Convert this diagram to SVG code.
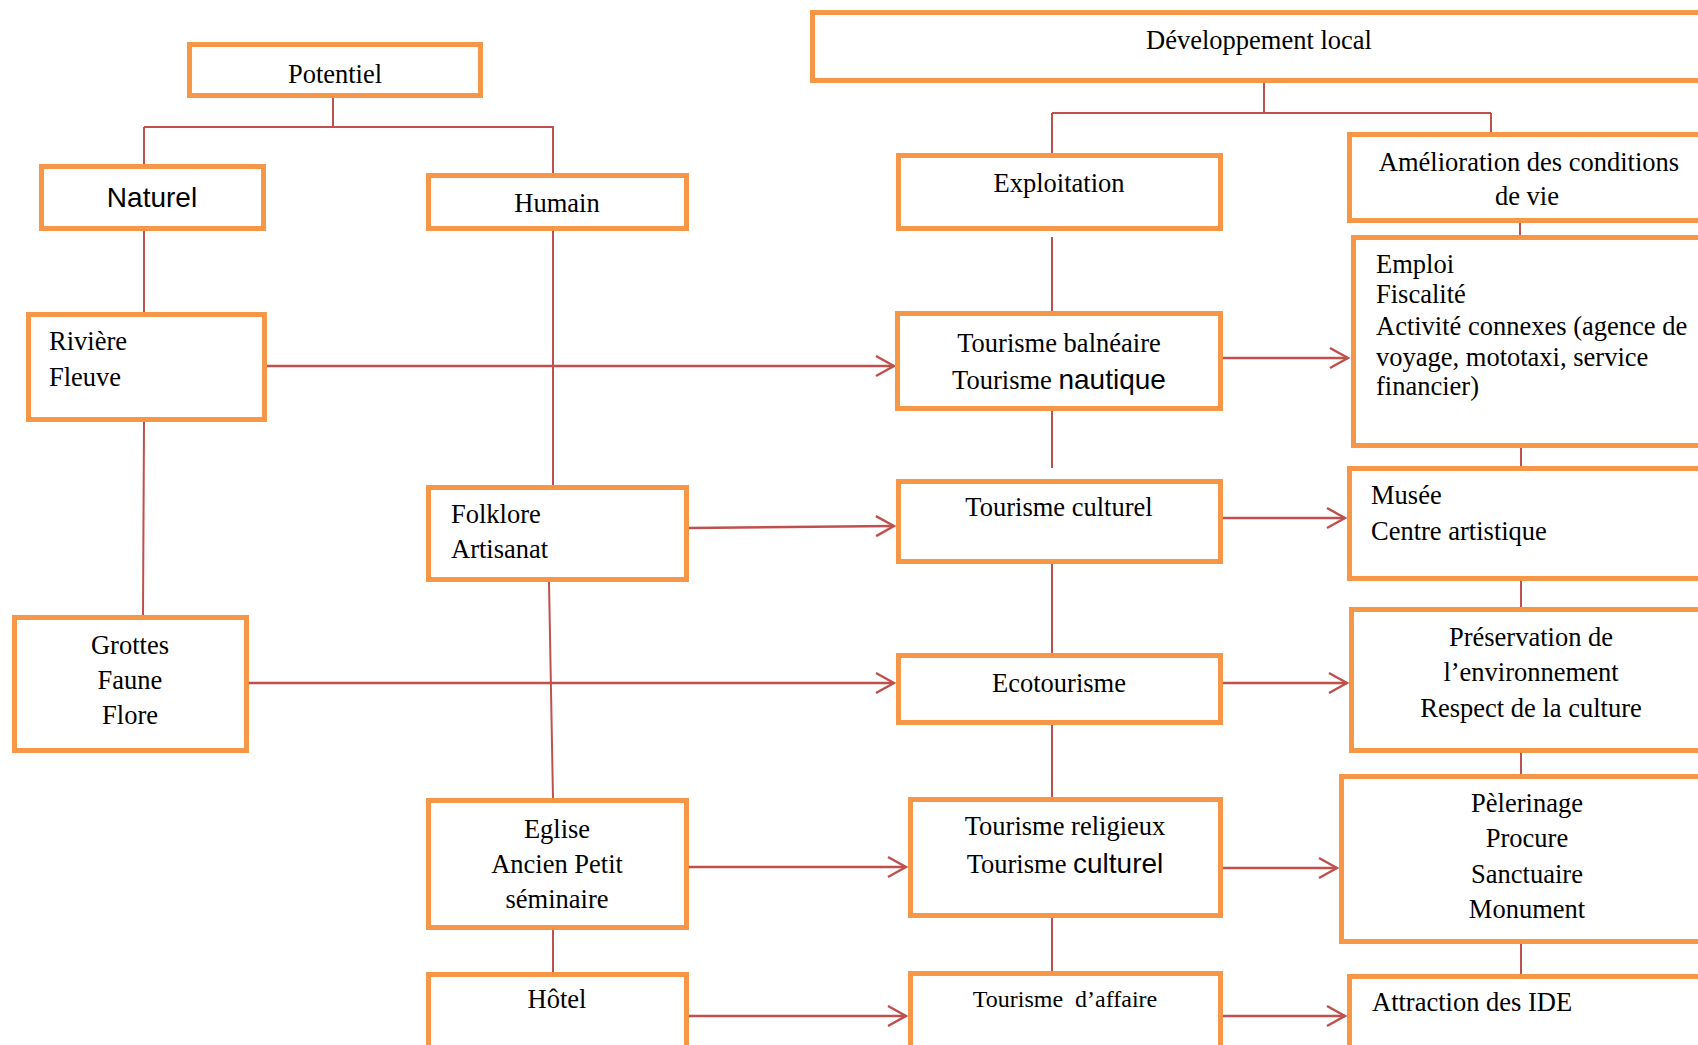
<svg xmlns="http://www.w3.org/2000/svg" width="1698" height="1045" viewBox="0 0 1698 1045">
<style>
.box{fill:#fff;stroke:#F79646;stroke-width:5}
.t{font-family:"Liberation Serif","Times New Roman",serif;font-size:26.5px;fill:#000}
.c{text-anchor:middle}
.s{font-family:"Liberation Sans",Arial,sans-serif;font-size:28px}
.ln{fill:none;stroke:#C0504D;stroke-width:2}
.ar{fill:none;stroke:#C0504D;stroke-width:2.5;marker-end:url(#arr)}
</style>
<defs>
<marker id="arr" markerUnits="userSpaceOnUse" viewBox="0 0 22 24" markerWidth="22" markerHeight="24" refX="20" refY="12" orient="auto">
<path d="M2,2 L20,12 L2,22" fill="none" stroke="#C0504D" stroke-width="2.5"/>
</marker>
</defs>
<rect width="1698" height="1045" fill="#fff"/>
<g id="connectors">
<path class="ln" d="M333 98V127M144 127H554M144 127V164M553 127V173"/>
<path class="ln" d="M144 231V312M144 422L143 615"/>
<path class="ln" d="M553 231V485M549 582L553 798M553 930V972"/>
<path class="ln" d="M1264 83V113M1052 113H1491M1052 113V153M1491 113V132"/>
<path class="ln" d="M1052 237V311M1052 411V468M1052 564V653M1052 725V797M1052 918V971"/>
<path class="ln" d="M1520 223V235M1521 448V466M1521 581V607M1521 753V774M1521 944V974"/>
<path class="ar" d="M267 366H894"/>
<path class="ar" d="M689 528L894 526"/>
<path class="ar" d="M249 683H894"/>
<path class="ar" d="M689 867H906"/>
<path class="ar" d="M689 1016H906"/>
<path class="ar" d="M1223 358H1348"/>
<path class="ar" d="M1223 518H1345"/>
<path class="ar" d="M1223 683H1347"/>
<path class="ar" d="M1223 868H1337"/>
<path class="ar" d="M1223 1016H1345"/>
</g>
<g id="potentiel"><rect class="box" x="189.5" y="44.5" width="291" height="51"/><text class="t c" x="335" y="83">Potentiel</text></g>
<g id="naturel"><rect class="box" x="41.5" y="166.5" width="222" height="62"/><text class="t c s" x="152" y="207">Naturel</text></g>
<g id="humain"><rect class="box" x="428.5" y="175.5" width="258" height="53"/><text class="t c" x="557" y="212">Humain</text></g>
<g id="riviere"><rect class="box" x="28.5" y="314.5" width="236" height="105"/><text class="t" x="49" y="350">Rivière</text><text class="t" x="49" y="386">Fleuve</text></g>
<g id="folklore"><rect class="box" x="428.5" y="487.5" width="258" height="92"/><text class="t" x="451" y="523">Folklore</text><text class="t" x="451" y="558">Artisanat</text></g>
<g id="grottes"><rect class="box" x="14.5" y="617.5" width="232" height="133"/><text class="t c" x="130" y="654">Grottes</text><text class="t c" x="130" y="689">Faune</text><text class="t c" x="130" y="724">Flore</text></g>
<g id="eglise"><rect class="box" x="428.5" y="800.5" width="258" height="127"/><text class="t c" x="557" y="838">Eglise</text><text class="t c" x="557" y="873">Ancien Petit</text><text class="t c" x="557" y="908">séminaire</text></g>
<g id="hotel"><rect class="box" x="428.5" y="974.5" width="258" height="100"/><text class="t c" x="557" y="1008">Hôtel</text></g>
<g id="developpement"><rect class="box" x="812.5" y="12.5" width="900" height="68"/><text class="t c" x="1259" y="49">Développement local</text></g>
<g id="exploitation"><rect class="box" x="898.5" y="155.5" width="322" height="73"/><text class="t c" x="1059" y="192">Exploitation</text></g>
<g id="balneaire"><rect class="box" x="897.5" y="313.5" width="323" height="95"/><text class="t c" x="1059" y="352">Tourisme balnéaire</text><text class="t c" x="1059" y="389">Tourisme <tspan class="s">nautique</tspan></text></g>
<g id="culturel"><rect class="box" x="898.5" y="481.5" width="322" height="80"/><text class="t c" x="1059" y="516">Tourisme culturel</text></g>
<g id="ecotourisme"><rect class="box" x="898.5" y="655.5" width="322" height="67"/><text class="t c" x="1059" y="692">Ecotourisme</text></g>
<g id="religieux"><rect class="box" x="910.5" y="799.5" width="310" height="116"/><text class="t c" x="1065" y="835">Tourisme religieux</text><text class="t c" x="1065" y="873">Tourisme <tspan class="s">culturel</tspan></text></g>
<g id="affaire"><rect class="box" x="910.5" y="973.5" width="310" height="100"/><text class="t c" x="1065" y="1007" style="font-size:24px;white-space:pre">Tourisme  d’affaire</text></g>
<g id="amelioration"><rect class="box" x="1349.5" y="134.5" width="400" height="86"/><text class="t c" x="1529" y="171">Amélioration des conditions</text><text class="t c" x="1527" y="205">de vie</text></g>
<g id="emploi"><rect class="box" x="1353.5" y="237.5" width="400" height="208"/><text class="t" x="1376" y="273">Emploi</text><text class="t" x="1376" y="303">Fiscalité</text><text class="t" x="1376" y="335">Activité connexes (agence de</text><text class="t" x="1376" y="366">voyage, mototaxi, service</text><text class="t" x="1376" y="395">financier)</text></g>
<g id="musee"><rect class="box" x="1349.5" y="468.5" width="400" height="110"/><text class="t" x="1371" y="504">Musée</text><text class="t" x="1371" y="540">Centre artistique</text></g>
<g id="preservation"><rect class="box" x="1351.5" y="609.5" width="400" height="141"/><text class="t c" x="1531" y="646">Préservation de</text><text class="t c" x="1531" y="681">l’environnement</text><text class="t c" x="1531" y="717">Respect de la culture</text></g>
<g id="pelerinage"><rect class="box" x="1341.5" y="776.5" width="400" height="165"/><text class="t c" x="1527" y="812">Pèlerinage</text><text class="t c" x="1527" y="847">Procure</text><text class="t c" x="1527" y="883">Sanctuaire</text><text class="t c" x="1527" y="918">Monument</text></g>
<g id="attraction"><rect class="box" x="1349.5" y="976.5" width="400" height="100"/><text class="t" x="1372" y="1011">Attraction des IDE</text></g>
</svg>
